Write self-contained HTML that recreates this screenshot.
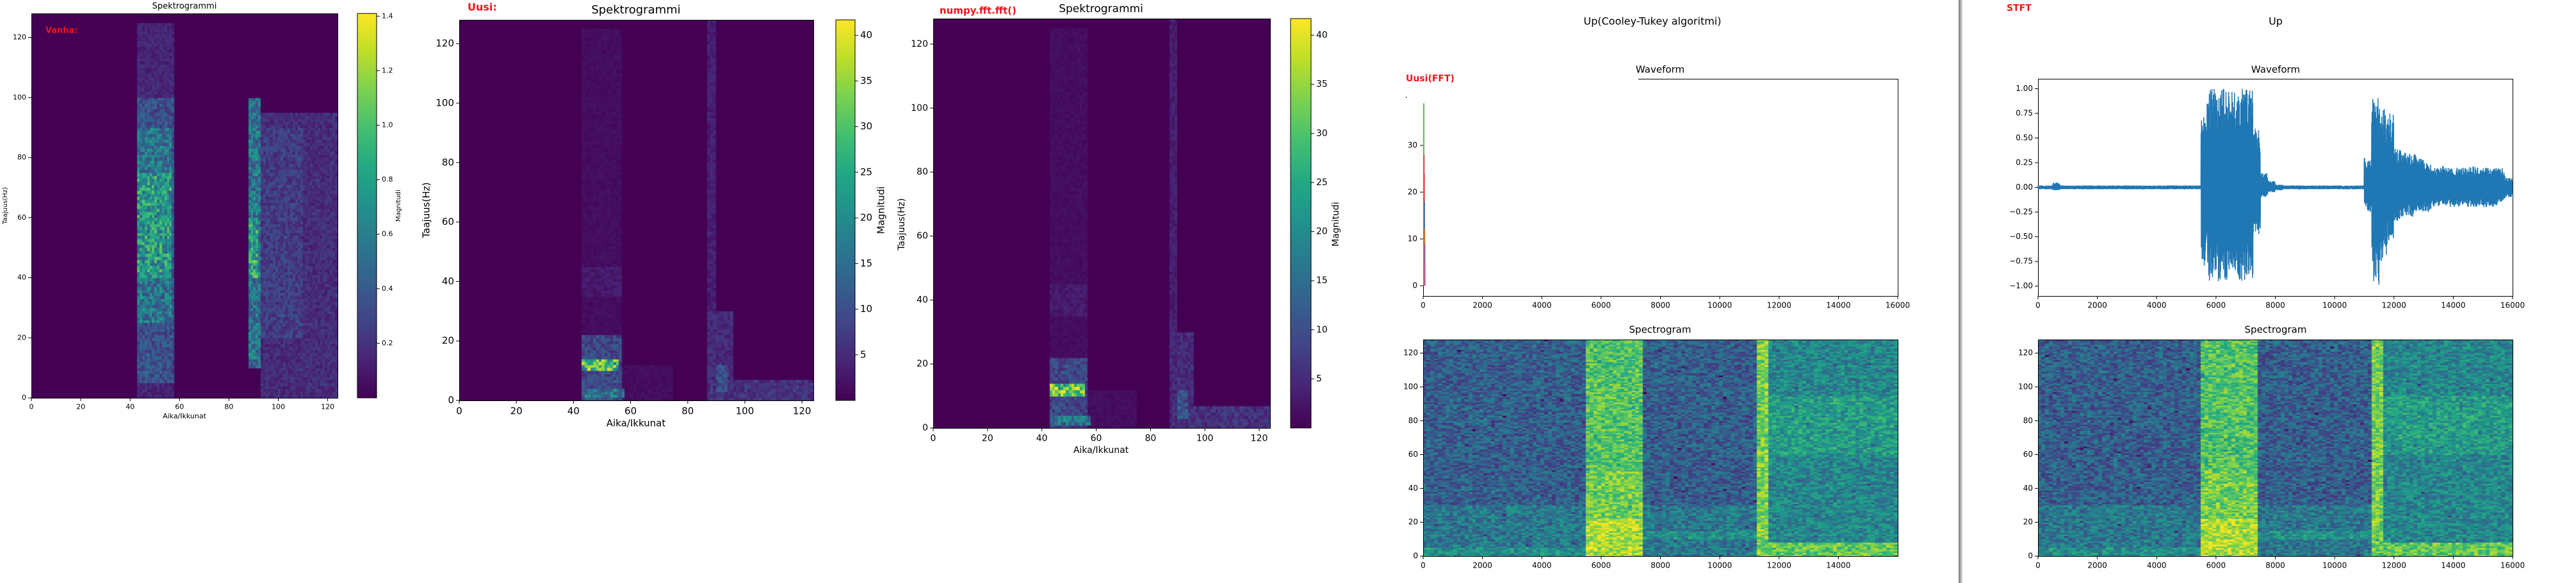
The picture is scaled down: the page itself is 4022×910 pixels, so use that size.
<!DOCTYPE html>
<html><head><meta charset="utf-8">
<style>
html,body{margin:0;padding:0;background:#fff;}
#root{position:relative;width:4022px;height:910px;overflow:hidden;background:#fff;font-family:"DejaVu Sans","Liberation Sans",sans-serif;}
canvas{position:absolute;}
svg{position:absolute;left:0;top:0;}
#sep{position:absolute;left:3058px;top:0;width:6px;height:910px;background:linear-gradient(90deg,#777,#aaa,#ddd);}
</style></head>
<body>
<div id="root">
<div id="sep"></div>
<svg id="svg" width="4022" height="910" xmlns="http://www.w3.org/2000/svg"></svg>
</div>
<script>
// ---------- data ----------
// Panel 1 ("Vanha") blobs: window range, freq range, magnitude
const p1X0=[43,43,43,43,88,88,93,93];
const p1X1=[58,58,57,57,93,92,124,110];
const p1Y0=[0,5,25,40,10,40,0,20];
const p1Y1=[125,100,90,75,100,60,95,90];
const p1V=[0.15,0.35,0.55,0.75,0.55,0.8,0.18,0.25];
// Panel 2 ("Uusi") blobs
const p2X0=[43,43,87,43,43,43,57,87,88,90];
const p2X1=[57,57,90,57,56,58,75,96,124,94];
const p2Y0=[22,35,0,0,10,1,0,0,0,3];
const p2Y1=[125,45,128,22,14,4,12,30,7,12];
const p2V=[1.5,3,3.5,9,28,16,1.5,5,6,10];
// Panel 3 ("numpy.fft.fft()") blobs
const p3X0=[43,43,87,43,43,43,57,87,88,90];
const p3X1=[57,57,90,57,56,58,75,96,124,94];
const p3Y0=[22,35,0,0,10,1,0,0,0,3];
const p3Y1=[125,45,128,22,14,4,12,30,7,12];
const p3V=[1.5,3,3.5,9,29,16,1.5,5,6,11];
// STFT-style dB spectrogram blobs (samples, freq bins, normalized level)
const sX0=[0,5400,5400,5400,11200,11600,11600,11600,7300,0];
const sX1=[16000,7300,7300,7300,11600,16000,16000,16000,11200,5400];
const sY0=[0,0,0,0,0,0,0,60,10,0];
const sY1=[30,128,50,22,128,128,8,95,15,5];
const sV=[0.4,0.72,0.78,0.88,0.8,0.46,0.75,0.55,0.5,0.5];
const sBase=0.3;
// Waveform peak envelope, 64 bins of 250 samples
const waveMax=[0.02,0.02,0.05,0.02,0.02,0.02,0.02,0.02,0.02,0.02,0.02,0.02,0.02,0.02,0.02,0.02,0.02,0.02,0.02,0.02,0.02,0.02,0.85,1.0,1.0,1.0,1.0,1.0,1.0,0.6,0.15,0.07,0.03,0.02,0.02,0.02,0.02,0.02,0.02,0.02,0.02,0.02,0.02,0.02,0.3,0.92,0.8,0.75,0.4,0.35,0.35,0.3,0.25,0.2,0.22,0.2,0.2,0.2,0.22,0.2,0.2,0.2,0.2,0.1];
const waveMin=[-0.02,-0.02,-0.03,-0.02,-0.02,-0.02,-0.02,-0.02,-0.02,-0.02,-0.02,-0.02,-0.02,-0.02,-0.02,-0.02,-0.02,-0.02,-0.02,-0.02,-0.02,-0.02,-0.8,-0.95,-0.95,-0.95,-0.95,-0.95,-0.95,-0.5,-0.1,-0.05,-0.03,-0.02,-0.02,-0.02,-0.02,-0.02,-0.02,-0.02,-0.02,-0.02,-0.02,-0.02,-0.25,-1.0,-0.75,-0.6,-0.35,-0.3,-0.3,-0.25,-0.25,-0.2,-0.2,-0.2,-0.2,-0.2,-0.2,-0.2,-0.2,-0.2,-0.15,-0.1];
// FFT panel series (peak heights)
const fftPeaks=[39,28,24,18,12,9,5];
const fftColors=['#2ca02c','#d62728','#d62728','#1f77b4','#ff7f0e','#9467bd','#e377c2'];
// Ticks
const winTicks=[0,20,40,60,80,100,120];
const freqTicks=[0,20,40,60,80,100,120];
const cb1Ticks=[0.2,0.4,0.6,0.8,1.0,1.2,1.4];
const cb2Ticks=[5,10,15,20,25,30,35,40];
const sampTicks=[0,2000,4000,6000,8000,10000,12000,14000,16000];
const sampTicksShort=[0,2000,4000,6000,8000,10000,12000,14000];
const ampTicks=[-1,-0.75,-0.5,-0.25,0,0.25,0.5,0.75,1];
const fftTicks=[0,10,20,30];

// ---------- helpers ----------
const NS='http://www.w3.org/2000/svg';
const svg=document.getElementById('svg');
const root=document.getElementById('root');
const VIR=['#440154','#482475','#414487','#355f8d','#2a788e','#21918c','#22a884','#44bf70','#7ad151','#bddf26','#fde725'];
function hex(h){return [parseInt(h.substr(1,2),16),parseInt(h.substr(3,2),16),parseInt(h.substr(5,2),16)];}
const VIRC=VIR.map(hex);
function vir(t){t=Math.max(0,Math.min(1,t));const f=t*10;const i=Math.min(9,Math.floor(f));const u=f-i;const a=VIRC[i],b=VIRC[i+1];return [a[0]+(b[0]-a[0])*u,a[1]+(b[1]-a[1])*u,a[2]+(b[2]-a[2])*u];}
function hash(i,j,s){let h=(i*374761393+j*668265263+s*982451653)|0;h=(h^(h>>>13))*1274126177|0;h=h^(h>>>16);return ((h>>>0)%10000)/10000;}
function el(tag,attrs,parent){const e=document.createElementNS(NS,tag);for(const k in attrs)e.setAttribute(k,attrs[k]);(parent||svg).appendChild(e);return e;}
function txt(x,y,s,fs,opts){opts=opts||{};const t=el('text',{x:x,y:y,'font-size':fs,'text-anchor':opts.anchor||'middle','dominant-baseline':opts.base||'middle',fill:opts.fill||'#000','font-family':'DejaVu Sans, Liberation Sans, sans-serif'});if(opts.bold)t.setAttribute('font-weight','bold');if(opts.rot)t.setAttribute('transform','rotate('+opts.rot+' '+x+' '+y+')');t.textContent=s;return t;}
function fmt(v,d){const s=v.toFixed(d);return s.replace('-','\u2212');}

function axes(c){
  const sx=v=>c.x+(v-c.xmin)/(c.xmax-c.xmin)*c.w;
  const sy=v=>c.y+c.h-(v-c.ymin)/(c.ymax-c.ymin)*c.h;
  const g=el('g',{});
  
  
  (c.xticks||[]).forEach(v=>{const X=sx(v);
    el('line',{x1:X,x2:X,y1:c.y+c.h,y2:c.y+c.h+5,stroke:'#000','stroke-width':1},g);
    const t=txt(X,c.y+c.h+8+c.fs*0.6,fmt(v,c.xd||0),c.fs);g.appendChild(t);
    
    });
  (c.yticks||[]).forEach(v=>{const Y=sy(v);
    el('line',{x1:c.x-5,x2:c.x,y1:Y,y2:Y,stroke:'#000','stroke-width':1},g);
    const t=txt(c.x-8,Y,fmt(v,c.yd||0),c.fs,{anchor:'end'});g.appendChild(t);
    
    });
  return {sx,sy,g};
}
function frame(x,y,w,h,name){const r=el('rect',{x:x+0.5,y:y+0.5,width:w,height:h,fill:'none',stroke:'#000','stroke-width':1});
  
  }

function heat(x,y,w,h,cols,xmin,xmax,colW,X0,X1,Y0,Y1,V,vmax,base,noise,seed,name){
  const cv=document.createElement('canvas');cv.width=w;cv.height=h;cv.style.left=x+'px';cv.style.top=y+'px';
  
  
  root.insertBefore(cv,svg);
  const ctx=cv.getContext('2d');
  const sx=v=>(v-xmin)/(xmax-xmin)*w;
  for(let c=0;c<cols;c++){
    const xv=xmin+c*colW;
    for(let r=0;r<128;r++){
      let v=base;
      for(let k=0;k<V.length;k++){
        if(xv>=X0[k]&&xv<X1[k]&&r>=Y0[k]&&r<Y1[k]){v=Math.max(v,V[k]);}
      }
      const n=hash(c,r,seed);
      let t=v/vmax;
      if(base>0){t=t+(n-0.5)*noise; if(hash(r,c,seed+11)>0.985)t-=0.15;}
      else t=t*(1-noise/2+n*noise);
      const col=vir(t);
      ctx.fillStyle='rgb('+(col[0]|0)+','+(col[1]|0)+','+(col[2]|0)+')';
      const X=Math.floor(sx(xv)),X2=Math.ceil(sx(xv+colW));
      const Yb=h-(r+1)/128*h,Yt=h-r/128*h;
      ctx.fillRect(X,Math.floor(Yb),X2-X,Math.ceil(Yt)-Math.floor(Yb));
    }
  }
}
function colorbar(x,y,w,h,vmin,vmax,ticks,d,fs,name){
  const id='g'+name;
  const defs=el('defs',{});const lg=el('linearGradient',{id:id,x1:0,y1:1,x2:0,y2:0},defs);
  VIR.forEach((c,i)=>el('stop',{offset:i/10,'stop-color':c},lg));
  const r=el('rect',{x:x,y:y,width:w,height:h,fill:'url(#'+id+')',stroke:'#000','stroke-width':1});
  
  
  ticks.forEach(v=>{const Y=y+h-(v-vmin)/(vmax-vmin)*h;
    el('line',{x1:x+w,x2:x+w+5,y1:Y,y2:Y,stroke:'#000'});
    const t=txt(x+w+8,Y,v.toFixed(d),fs,{anchor:'start'});
    
    });
}

// ---------- Panel 1 ----------
heat(49,21,478,600,124,0,124,1,p1X0,p1X1,p1Y0,p1Y1,p1V,1.41,0,0.9,1,'heatmap-vanha');
frame(49,21,478,600,'plot-frame-vanha');
axes({name:'vanha',x:49,y:21,w:478,h:600,xmin:0,xmax:124,ymin:0,ymax:128,xticks:winTicks,yticks:freqTicks,fs:11});
colorbar(558,21,30,600,0,1.41,cb1Ticks,1,11,'colorbar-vanha');
txt(288,10,'Spektrogrammi',13);
txt(71,48,'Vanha:',13,{anchor:'start',bold:true,fill:'#f0141e'});
txt(288,650,'Aika/Ikkunat',11);
txt(8,321,'Taajuus(Hz)',10,{rot:-90});
txt(622,321,'Magnitudi',10,{rot:-90});

// ---------- Panel 2 ----------
heat(717,31,553,594,124,0,124,1,p2X0,p2X1,p2Y0,p2Y1,p2V,41.7,0,0.9,2,'heatmap-uusi');
frame(717,31,553,594,'plot-frame-uusi');
axes({name:'uusi',x:717,y:31,w:553,h:594,xmin:0,xmax:124,ymin:0,ymax:128,xticks:winTicks,yticks:freqTicks,fs:15});
colorbar(1305,31,30,594,0,41.7,cb2Ticks,0,15,'colorbar-uusi');
txt(993,16,'Spektrogrammi',18);
txt(730,12,'Uusi:',16,{anchor:'start',bold:true,fill:'#f0141e'});
txt(993,661,'Aika/Ikkunat',15);
txt(666,328,'Taajuus(Hz)',15,{rot:-90});
txt(1376,328,'Magnitudi',15,{rot:-90});

// ---------- Panel 3 ----------
heat(1457,29,526,639,124,0,124,1,p3X0,p3X1,p3Y0,p3Y1,p3V,41.7,0,0.9,3,'heatmap-numpy');
frame(1457,29,526,639,'plot-frame-numpy');
axes({name:'numpy',x:1457,y:29,w:526,h:639,xmin:0,xmax:124,ymin:0,ymax:128,xticks:winTicks,yticks:freqTicks,fs:14});
colorbar(2015,29,32,639,0,41.7,cb2Ticks,0,14,'colorbar-numpy');
txt(1719,14,'Spektrogrammi',17);
txt(1467,17,'numpy.fft.fft()',15,{anchor:'start',bold:true,fill:'#f0141e'});
txt(1719,703,'Aika/Ikkunat',14);
txt(1408,350,'Taajuus(Hz)',14,{rot:-90});
txt(2086,350,'Magnitudi',14,{rot:-90});

// ---------- Panel 4 (Cooley-Tukey) ----------
txt(2580,34,'Up(Cooley-Tukey algoritmi)',16);
txt(2592,109,'Waveform',15);
txt(2195,123,'Uusi(FFT)',14,{anchor:'start',bold:true,fill:'#f0141e'});
el('line',{x1:2558,x2:2964,y1:123.5,y2:123.5,stroke:'#000'});
el('line',{x1:2963.5,x2:2963.5,y1:123,y2:462,stroke:'#000'});
el('line',{x1:2222,x2:2964,y1:462.5,y2:462.5,stroke:'#000'});
el('line',{x1:2222.5,x2:2222.5,y1:446,y2:462,stroke:'#000'});
const a4=axes({name:'fft-waveform',x:2222,y:123,w:741,h:339,xmin:0,xmax:16000,ymin:-10,ymax:50,xticks:sampTicks,yticks:[],fs:12});
const fy=v=>446-v*7.3;
fftTicks.forEach(v=>{el('line',{x1:2217,x2:2222,y1:fy(v),y2:fy(v),stroke:'#000'});
  const t=txt(2213,fy(v),String(v),12,{anchor:'end'});
  
  });
fftPeaks.forEach((p,i)=>{const X=a4.sx(i*8)+1;
  const l=el('line',{x1:X,x2:X,y1:fy(0),y2:fy(p),stroke:fftColors[i],'stroke-width':1.5});
  
  });
el('rect',{x:2195,y:151,width:1,height:2,fill:'#000'});
heat(2222,530,741,338,125,0,16000,128,sX0,sX1,sY0,sY1,sV,1,sBase,0.3,4,'spectrogram-fft');
frame(2222,530,741,338,'spectrogram-frame-fft');
axes({name:'fft-spectrogram',x:2222,y:530,w:741,h:338,xmin:0,xmax:16000,ymin:0,ymax:128,xticks:sampTicksShort,yticks:freqTicks,fs:12});
txt(2592,515,'Spectrogram',15);

// ---------- Panel 5 (STFT) ----------
txt(3133,13,'STFT',14,{anchor:'start',bold:true,fill:'#f0141e'});
txt(3553,34,'Up',16);
txt(3553,109,'Waveform',15);
frame(3182,123,741,339,'waveform-frame-stft');
const a5=axes({name:'stft-waveform',x:3182,y:123,w:741,h:339,xmin:0,xmax:16000,ymin:-1.1,ymax:1.1,xticks:sampTicks,yticks:ampTicks,yd:2,fs:12});
(function(){let pts=[];const bw=16000/waveMax.length;const K=40;
  for(let i=0;i<waveMax.length;i++){for(let k=0;k<K;k++){const s=i*bw+k*bw/K;const v=(k%2===0)?waveMax[i]*(0.55+0.45*hash(i,k,9)):waveMin[i]*(0.55+0.45*hash(i,k,7));pts.push(a5.sx(s).toFixed(1)+','+a5.sy(v).toFixed(1));}}
  const pl=el('polyline',{points:pts.join(' '),fill:'none',stroke:'#1f77b4','stroke-width':1.5});
  
  })();
heat(3182,530,741,338,125,0,16000,128,sX0,sX1,sY0,sY1,sV,1,sBase,0.3,5,'spectrogram-stft');
frame(3182,530,741,338,'spectrogram-frame-stft');
axes({name:'stft-spectrogram',x:3182,y:530,w:741,h:338,xmin:0,xmax:16000,ymin:0,ymax:128,xticks:sampTicks,yticks:freqTicks,fs:12});
txt(3553,515,'Spectrogram',15);
</script>
</body></html>
